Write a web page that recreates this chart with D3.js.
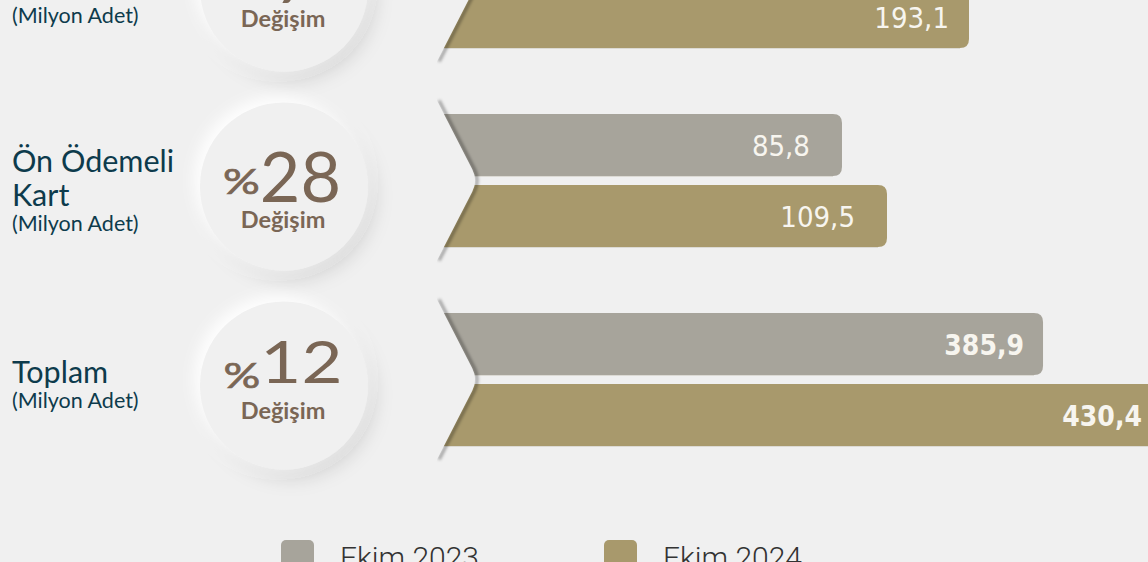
<!DOCTYPE html>
<html><head><meta charset="utf-8">
<script src="https://cdn.jsdelivr.net/npm/d3@7"></script>
<style>html,body{margin:0;padding:0;background:#f0f0f0;overflow:hidden}</style>
</head><body>
<svg id="chart" width="1148" height="562"></svg>
<script>
// ---- data ----
const categories = ["Banka Kartı", "Ön Ödemeli Kart", "Toplam"];
const titleLines = [["Banka Kartı"], ["Ön Ödemeli", "Kart"], ["Toplam"]];
const unitLabel = "(Milyon Adet)";
const series = ["Ekim 2023", "Ekim 2024"];
const values2023 = [null, 85.8, 385.9];
const values2024 = [193.1, 109.5, 430.4];
const changePct = [7, 28, 12];
const changeLabel = "Değişim";

// ---- layout (positions / styles only) ----
const W = 1148, H = 562;
const groupXRange = [[440, 969], [679, 887], [20, 1161]]; // per-group value axis (broken scale)
const valuePad = [20, 32, 19];
const valueBold = [false, false, true];
const numSize = [70, 70, 58];
const numScaleX = [1, 1, 1.22];
const numCenter = [276, 282, 283];
const numDy = [15, 15, -3];
const pctDy = [-8, -8, 5];
const degDy = [39, 41, 33];
const labelDy = [13, 0, 0];
const colors = {"Ekim 2023": "#a7a49b", "Ekim 2024": "#a8996c"};
const fmt = v => d3.format(".1f")(v).replace(".", ",");

const svg = d3.select("#chart");
const defs = svg.append("defs");
const cf = defs.append("filter").attr("id", "circShadow").attr("x", "-40%").attr("y", "-40%").attr("width", "180%").attr("height", "180%");
cf.append("feDropShadow").attr("dx", 7).attr("dy", 9).attr("stdDeviation", 9).attr("flood-color", "#000").attr("flood-opacity", 0.13).attr("result", "a");
cf.append("feDropShadow").attr("in", "SourceGraphic").attr("dx", -6).attr("dy", -6).attr("stdDeviation", 7).attr("flood-color", "#fff").attr("flood-opacity", 0.9).attr("result", "b");
const cm = cf.append("feMerge");
cm.append("feMergeNode").attr("in", "a");
cm.append("feMergeNode").attr("in", "b");
const blur = defs.append("filter").attr("id", "blur").attr("x", "-50%").attr("y", "-10%").attr("width", "200%").attr("height", "120%");
blur.append("feGaussianBlur").attr("stdDeviation", 1.8);

svg.append("rect").attr("width", W).attr("height", H).attr("fill", "#f0f0f0");

const y = d3.scaleBand().domain(categories).range([-118, 479]);
const yInner = d3.scaleBand().domain(series).range([-66.5, 66.5]).paddingInner(0.127);

categories.forEach((cat, i) => {
  const c = y(cat) + y.bandwidth() / 2;
  const g = svg.append("g");
  const vals = [values2023[i], values2024[i]];
  const x = d3.scaleLinear().domain([0, d3.max(vals)]).range(groupXRange[i]);
  const x0 = 425, r = 9;

  // bars
  series.forEach((s, k) => {
    const v = vals[k];
    if (v == null) return;
    const top = c + yInner(s), h = yInner.bandwidth(), xe = x(v);
    const p = d3.path();
    p.moveTo(x0, top); p.lineTo(xe - r, top);
    p.quadraticCurveTo(xe, top, xe, top + r);
    p.lineTo(xe, top + h - r);
    p.quadraticCurveTo(xe, top + h, xe - r, top + h);
    p.lineTo(x0, top + h); p.closePath();
    g.append("path").attr("d", p.toString()).attr("fill", colors[s]);
    g.append("line").attr("x1", x0).attr("x2", xe - r).attr("y1", top + h + 0.5).attr("y2", top + h + 0.5)
      .attr("stroke", "#dcdad4").attr("stroke-width", 1);
    g.append("text").attr("x", xe - valuePad[i]).attr("y", top + h / 2 + 11)
      .attr("text-anchor", "end")
      .attr("font-family", "'DejaVu Sans Condensed', 'DejaVu Sans', sans-serif")
      .attr("font-weight", valueBold[i] ? 700 : 400)
      .attr("font-size", valueBold[i] ? 28 : 29)
      .attr("fill", "#f7f5ef").text(fmt(v));
  });

  // chevron
  const t = c - 80, b = c + 80, xl = 437, xt = 478;
  const a = 0.86;
  const sp = d3.path();
  sp.moveTo(xl, t);
  sp.lineTo(xl + (xt - xl) * a, c - 80 * (1 - a));
  sp.quadraticCurveTo(xt, c, xl + (xt - xl) * a, c + 80 * (1 - a));
  sp.lineTo(xl, b);
  g.append("path").attr("d", sp.toString()).attr("fill", "none").attr("stroke", "#000")
    .attr("stroke-opacity", 0.34).attr("stroke-width", 3).attr("transform", "translate(2,0)")
    .attr("filter", "url(#blur)");
  const cp = d3.path();
  cp.moveTo(415, t - 2); cp.lineTo(xl, t - 2); cp.lineTo(xl, t);
  cp.lineTo(xl + (xt - xl) * a, c - 80 * (1 - a));
  cp.quadraticCurveTo(xt, c, xl + (xt - xl) * a, c + 80 * (1 - a));
  cp.lineTo(xl, b); cp.lineTo(xl, b + 2); cp.lineTo(415, b + 2); cp.closePath();
  g.append("path").attr("d", cp.toString()).attr("fill", "#f0f0f0");

  // circle
  const cy = c + 6;
  g.append("circle").attr("cx", 284).attr("cy", cy).attr("r", 84).attr("fill", "#f0f0f0").attr("filter", "url(#circShadow)");
  const ng = g.append("g");
  const pct = ng.append("text").attr("font-family", "Lato, sans-serif").attr("fill", "#7a6655")
    .attr("stroke", "#7a6655").attr("stroke-width", 0.7)
    .attr("font-size", 34).attr("text-anchor", "end").text("%");
  const num = ng.append("text").attr("font-family", "Lato, sans-serif").attr("fill", "#7a6655")
    .attr("font-size", numSize[i]).text(changePct[i]);
  const pw = pct.node().getComputedTextLength() * 1.35;
  const nw = num.node().getComputedTextLength() * numScaleX[i];
  const startX = numCenter[i] - (pw + nw) / 2 + pw;
  const base = cy + numDy[i];
  pct.attr("transform", `translate(${startX},${base + pctDy[i]}) scale(1.35,1)`);
  num.attr("transform", `translate(${startX},${base}) scale(${numScaleX[i]},1)`);
  g.append("text").attr("x", 283).attr("y", cy + degDy[i]).attr("text-anchor", "middle")
    .attr("font-family", "Lato, sans-serif").attr("font-weight", 700).attr("font-size", 23.5)
    .attr("fill", "#7a6655").text(changeLabel);

  // left labels
  const n = titleLines[i].length;
  const fb = c + 3.5 - (n - 1) * 12 + labelDy[i];
  titleLines[i].forEach((ln, j) => {
    g.append("text").attr("x", 12).attr("y", fb + j * 34)
      .attr("font-family", "Lato, sans-serif").attr("font-size", 30.5).attr("fill", "#0d3b4c").text(ln);
  });
  g.append("text").attr("x", 12).attr("y", fb + (n - 1) * 34 + 24.5)
    .attr("font-family", "Lato, sans-serif").attr("font-size", 21.5).attr("fill", "#0d3b4c").text(unitLabel);
});

// legend
const lx = d3.scalePoint().domain(series).range([281, 604]);
series.forEach(s => {
  svg.append("rect").attr("x", lx(s)).attr("y", 540).attr("width", 33).attr("height", 33).attr("rx", 5)
    .attr("fill", colors[s]);
  svg.append("text").attr("x", lx(s) + 59).attr("y", 568)
    .attr("font-family", "Roboto, sans-serif").attr("font-weight", 300).attr("font-size", 30)
    .attr("fill", "#333").text(s);
});
</script>
</body></html>
